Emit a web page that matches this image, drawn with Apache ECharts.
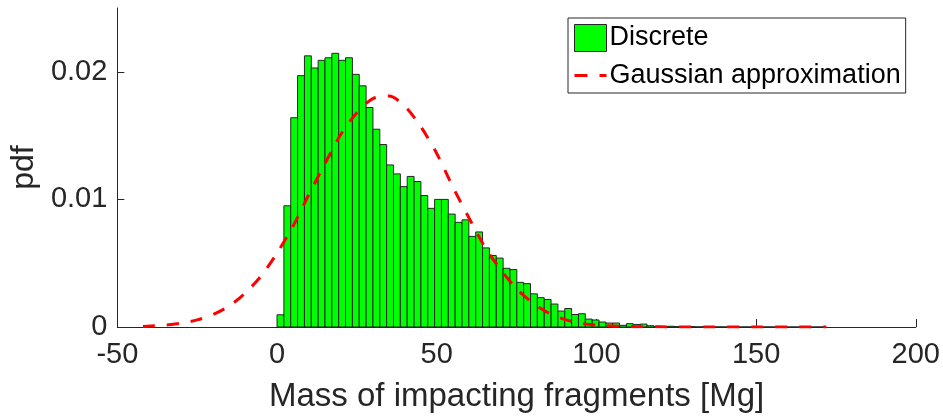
<!DOCTYPE html>
<html>
<head>
<meta charset="utf-8">
<script src="https://cdn.jsdelivr.net/npm/echarts@6/dist/echarts.min.js"></script>
<style>
  html, body { margin: 0; padding: 0; background: #fff; }
  #chart { width: 943px; height: 418px; }
</style>
</head>
<body>
<div id="chart"></div>
<script>
// histogram: first bin edge and bin width [Mg]
var binStart = 0;
var binWidth = 2.145;
var pdfValues = [
    0.00096, 0.0095, 0.0164, 0.0197, 0.02125, 0.0203, 0.0209, 0.0211, 0.02145, 0.0209,
    0.0211, 0.0198, 0.0189, 0.0172, 0.0155, 0.0143, 0.0127, 0.0120, 0.0110, 0.0118,
    0.0114, 0.0103, 0.0093, 0.0100, 0.0100, 0.00885, 0.0082, 0.0084, 0.0071, 0.00745,
    0.0062, 0.0056, 0.0054, 0.0046, 0.0045, 0.0035, 0.0034, 0.0026, 0.0023, 0.00216,
    0.0018, 0.00125, 0.00145, 0.00098, 0.00104, 0.00062, 0.00055, 0.00039, 0.00031, 0.00031,
    0.00013, 0.00026, 0.0002, 0.00023, 0.0001, 0.00005, 0.00004, 0.00006, 0.00003, 0.00002,
    0.00003, 0.00001, 0.00002, 0.00001, 0.00001, 0.000005, 0.00001, 0, 0.000005, 0,
    0, 0.000005, 0, 0, 0, 0, 0, 0, 0, 0
];

// gaussian approximation
var gaussX = [-42, -35, -30, -25, -20, -15, -10, -5, 0, 5, 10, 15, 20, 25, 30, 35, 40, 45, 50, 55,
    60, 65, 70, 75, 80, 85, 90, 95, 100, 110, 120, 135, 150, 172];
var gaussY = [0.00004, 0.00015, 0.0003, 0.00056, 0.00098, 0.00165, 0.00265, 0.004, 0.0058, 0.0079,
    0.0104, 0.0128, 0.0151, 0.0168, 0.0179, 0.0181, 0.0173, 0.0157, 0.0136, 0.0110,
    0.0086, 0.0063, 0.0045, 0.0030, 0.0019, 0.0011, 0.0006, 0.0003, 0.00015, 0.00003,
    0.00001, 0, 0, 0];

var xTicks = [-50, 0, 50, 100, 150, 200];
var yTicks = [0, 0.01, 0.02];

var axisColor = '#262626';
var fontFamily = '"Liberation Sans", Arial, Helvetica, sans-serif';

var histData = pdfValues.map(function(v, i) {
    return [binStart + i * binWidth, binStart + (i + 1) * binWidth, v];
});
var gaussData = gaussX.map(function(x, i) { return [x, gaussY[i]]; });

var chart = echarts.init(document.getElementById('chart'));
chart.setOption({
    animation: false,
    textStyle: { fontFamily: fontFamily },
    grid: { left: 113, right: 26, top: 8, bottom: 90 },
    legend: {
        orient: 'vertical',
        left: 568,
        top: 18,
        padding: [6, 5, 4, 6],
        itemGap: 10,
        itemWidth: 32,
        itemHeight: 27,
        backgroundColor: '#fff',
        borderColor: axisColor,
        borderWidth: 1,
        borderRadius: 0,
        textStyle: { fontSize: 27, color: '#000', fontFamily: fontFamily, padding: [0, 0, 0, -2] },
        data: [
            { name: 'Discrete', icon: 'rect', itemStyle: { color: '#00ff00', borderColor: axisColor, borderWidth: 1 } },
            { name: 'Gaussian approximation', icon: 'path://M0,0h13v3h-13z M25,0h7v3h-7z', itemStyle: { color: '#ff0000', borderWidth: 0 } }
        ]
    },
    xAxis: {
        type: 'value',
        min: -50,
        max: 200,
        interval: 50,
        name: 'Mass of impacting fragments [Mg]',
        nameLocation: 'middle',
        nameGap: 53,
        nameTextStyle: { fontSize: 33, color: axisColor, fontFamily: fontFamily },
        axisLine: { show: true, onZero: false, lineStyle: { color: axisColor, width: 1 } },
        axisTick: { show: true, inside: true, length: 8, lineStyle: { color: axisColor }, customValues: xTicks },
        axisLabel: { fontSize: 29, color: axisColor, margin: 13, customValues: xTicks },
        splitLine: { show: false }
    },
    yAxis: {
        type: 'value',
        min: 0,
        max: 0.025,
        name: 'pdf',
        nameLocation: 'middle',
        nameRotate: 90,
        nameGap: 74,
        nameTextStyle: { fontSize: 32, color: axisColor, fontFamily: fontFamily },
        axisLine: { show: true, onZero: false, lineStyle: { color: axisColor, width: 1 } },
        axisTick: { show: true, inside: true, length: 7, lineStyle: { color: axisColor }, customValues: yTicks },
        axisLabel: { fontSize: 29, color: axisColor, margin: 10, padding: [6, 0, 0, 0], customValues: yTicks },
        splitLine: { show: false }
    },
    series: [
        {
            name: 'Discrete',
            type: 'custom',
            itemStyle: { color: '#00ff00', borderColor: axisColor },
            encode: { x: [0, 1], y: 2 },
            data: histData,
            renderItem: function(params, api) {
                var p0 = api.coord([api.value(0), api.value(2)]);
                var p1 = api.coord([api.value(1), 0]);
                return {
                    type: 'rect',
                    shape: { x: p0[0], y: p0[1], width: p1[0] - p0[0], height: p1[1] - p0[1] },
                    style: { fill: '#00ff00', stroke: axisColor, lineWidth: 1 }
                };
            },
            z: 2
        },
        {
            name: 'Gaussian approximation',
            type: 'line',
            data: gaussData,
            smooth: 0.3,
            showSymbol: false,
            symbol: 'none',
            lineStyle: { color: '#ff0000', width: 3, type: [12, 12] },
            itemStyle: { color: '#ff0000' },
            z: 3
        }
    ]
});
</script>
</body>
</html>
